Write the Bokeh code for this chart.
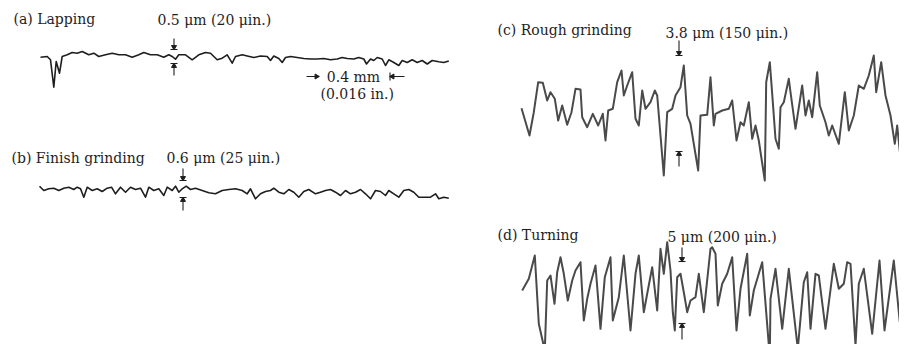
from bokeh.plotting import figure
from bokeh.models import Range1d
from bokeh.core.properties import value
from bokeh.embed import file_html
from bokeh.resources import INLINE

# ---------------- data: surface profile traces ----------------
a_x = [40, 46.7, 50, 53.3, 55.7, 59, 61.7, 66.7, 71.7, 76.7, 81.7, 88.3, 93.3, 98.3, 105, 111.7, 118.3, 125,
       131.7, 138.3, 143.3, 150, 156.7, 163.3, 168.3, 171.7, 175, 178.3, 185, 191.7, 198.3, 205, 210, 216.7,
       221.7, 226.7, 231.7, 235, 241.7, 246.7, 253.3, 260, 266.7, 270, 273.3, 278.3, 281.7, 285, 290, 296.7,
       303.3, 310, 316.7, 323.3, 330, 336.7, 341.7, 346.7, 353.3, 358.3, 363.3, 366, 370, 373.3, 376.7, 381.7,
       385, 388.3, 393.3, 398.3, 401.7, 406.7, 411.7, 416.7, 421.7, 426.7, 431.7, 438.3, 443.3, 448.3]
a_y = [56.7, 56, 59.3, 86.7, 61, 72.7, 56, 54.3, 52, 52.7, 51, 54.3, 52.7, 56, 54.3, 52.7, 54.3, 54.3,
       56.7, 54.3, 52, 54.3, 54.3, 56.7, 54.3, 56, 58.7, 54.3, 54.3, 59.3, 54.3, 52, 52.7, 59.3,
       57.7, 54.3, 62.7, 56, 54.3, 55.5, 57, 55.5, 56, 60, 55.5, 58, 62, 57, 56, 57,
       58, 58.5, 58.5, 58, 59.3, 58.5, 57, 58, 58.5, 57, 58.5, 63.5, 58.5, 60, 57, 58.5,
       65, 59.3, 62, 65, 60, 62, 59.3, 62, 60, 63.5, 60, 61.3, 62, 60.5]

b_x = [39, 43.3, 48.3, 53.3, 58.3, 63.3, 68.3, 73.3, 76.7, 80, 83.3, 86.7, 91.7, 96.7, 101.7, 106.7, 111, 115,
       120, 125, 130, 135, 140, 145, 148.3, 153.3, 158.3, 163.3, 166.7, 171.7, 175, 178.3, 181.7, 185.7, 190,
       195, 201.7, 208.3, 215, 221.7, 228.3, 235, 241.7, 246.7, 250, 255, 260, 265, 270, 273.3, 278.3, 283.3,
       288.3, 293.3, 298.3, 303.3, 308.3, 315, 320, 325, 330, 335, 340, 345, 350, 355, 360, 365, 370, 375,
       380, 385, 388.3, 393.3, 398.3, 403.3, 408.3, 413.3, 418.3, 425, 430, 435, 438.3, 443.3, 448.3]
b_y = [185.7, 190, 188.3, 187.7, 190, 187.7, 186.7, 189, 186.7, 188.3, 196.7, 186.7, 190, 188.3, 191, 187.7,
       186.7, 193.3, 186.7, 191.7, 186.7, 189, 187.7, 196.7, 186.7, 190, 188.3, 195, 186.7, 190, 185.7, 191.7,
       188.3, 185.7, 189, 187.7, 190, 192.3, 193.3, 190, 189, 188.3, 190, 193.3, 188.3, 198.3, 193.3, 191,
       190, 187.7, 191.7, 193.3, 189, 191.7, 196.7, 191, 189, 193.3, 191.7, 190, 189, 191.7, 195, 190, 193.3,
       191.7, 189, 193.3, 198.3, 190, 191, 195, 190, 193.3, 196.7, 190, 189, 191.7, 196.7, 196.7, 196.7,
       193.3, 198.3, 196.7, 197.7]

c_x = [521, 529, 533.3, 537.7, 542.3, 546.7, 550, 554.3, 557.7, 561.7, 566.7, 571, 575, 580, 581.7, 586.7,
       592.3, 597.7, 602.3, 605, 607.7, 612.3, 616.7, 621, 623.3, 626.7, 631.7, 635, 638.3, 641.7, 645, 650,
       654.3, 656.7, 663.3, 666.7, 671.7, 675, 680, 683.3, 686.7, 690, 697.7, 700, 706.7, 710, 713.3, 715,
       721.7, 728.3, 731.7, 736, 740, 743.3, 748.3, 751.7, 755, 758.3, 764.3, 765.7, 769.3, 771.7, 775, 778.3,
       780, 783.3, 788.3, 790, 795, 801.7, 805, 808.3, 811.7, 816.7, 819.3, 825, 828.3, 831.7, 838.3, 844.3,
       848.3, 853.3, 858.3, 863.3, 868.3, 873.3, 875.7, 880.7, 885, 890, 894.3, 896.7, 899.3, 902.7, 906.7,
       910, 913]
c_y = [107.7, 135, 111.7, 81.7, 82.3, 100, 91.7, 98.3, 120, 105, 124.3, 111.7, 88.3, 89, 116.7, 126.7,
       113.3, 125, 113.3, 140, 110, 108.3, 81.7, 70, 95, 85, 71.7, 118.3, 125, 90, 108.3, 101.7,
       90, 95, 175, 111.7, 108.3, 95, 86.7, 65, 115, 123.3, 170, 115, 114.3, 76.7, 125, 113.3,
       110, 108.3, 100, 140, 121.7, 125, 101.7, 138.3, 125, 140, 180, 81.7, 61.7, 93.3, 138.3, 148.3,
       106.7, 101.7, 78.3, 91.7, 128.3, 85, 115, 100, 116.7, 71.7, 105, 121.7, 135, 125, 143.3, 91.7,
       130, 115, 85, 88.3, 75, 55, 91.7, 61.7, 95, 115, 143.3, 125, 151, 116.7, 126.7,
       113.3, 95]

d_x = [521.7, 528.3, 534.3, 538.3, 544.3, 546.7, 550, 554, 556.7, 560, 563.3, 567.3, 571.7, 575, 580, 583.3,
       586.7, 590, 595, 600, 604.3, 610, 612.3, 618.3, 623.3, 630, 635, 638.3, 643.3, 646.7, 651.7, 656.7,
       660, 663.3, 666.7, 670, 672.3, 674.3, 676.7, 680, 683.3, 686.7, 690, 695, 698.3, 703.3, 710, 711.7,
       715, 717.3, 721.7, 726.7, 731.7, 736, 740, 746.7, 749.3, 753.3, 761.7, 769.3, 770, 775, 781.7, 788.3,
       797.3, 803.3, 806.7, 810, 815, 818.3, 825, 833.3, 838.3, 843.3, 846.7, 850, 855, 858.3, 863.3, 871.7,
       879, 884, 893.3, 899.3, 906.7, 911.7]
d_y = [290, 278.3, 255, 323.3, 350, 280, 275, 303.3, 271.7, 256.7, 273.3, 300, 280, 270, 261.7, 320,
       298.3, 283.3, 265, 328.3, 276.7, 256.7, 320, 296.7, 255, 330, 273.3, 255, 311.7, 293.3, 266.7, 310,
       248.3, 273.3, 241.7, 270, 311.7, 330, 276.7, 273.3, 291.7, 311.7, 300, 296.7, 273.3, 311.7, 248.3, 246.7,
       253.3, 305, 283.3, 273.3, 256.7, 330, 288.3, 253.3, 315, 290, 261.7, 356.7, 298.3, 268.3, 328.3, 268.3,
       348.3, 281.7, 271.7, 328.3, 273.3, 275, 328.3, 263.3, 288.3, 283.3, 261.7, 263.3, 345, 283.3, 268.3, 333.3,
       260, 330, 260, 321.7, 256.7, 306.7]

# ---------------- labels ----------------
titles = ["(a) Lapping", "(b) Finish grinding", "(c) Rough grinding", "(d) Turning"]
scales = ["0.5 \u03bcm (20 \u03bcin.)", "0.6 \u03bcm (25 \u03bcin.)",
          "3.8 \u03bcm (150 \u03bcin.)", "5 \u03bcm (200 \u03bcin.)"]
length_label = "0.4 mm"
length_label_in = "(0.016 in.)"

# ---------------- layout (reference-pixel coordinates) ----------------
title_x = [13, 11, 497, 497]
title_y = [18, 157, 29, 234]
scale_x = [157, 166, 665, 667]
scale_y = [19, 157, 32, 236]
# scale markers: x, top arrow start/end, bottom arrow start/end
mk_x = [173.5, 182.5, 678.5, 681.5]
mk_top = [(38, 49), (168, 180), (40, 55), (247, 261)]
mk_bot = [(63, 75), (197, 210), (151, 166), (323, 339)]

FONT = value("DejaVu Serif")
INK = "#1e1e1e"
FS = "14px"

p = figure(width=899, height=344, output_backend="svg", toolbar_location=None,
           x_range=Range1d(0, 899), y_range=Range1d(344, 0), min_border=0)
p.axis.visible = False
p.xgrid.visible = False
p.ygrid.visible = False
p.outline_line_color = None
p.background_fill_color = "white"
p.border_fill_color = "white"

# traces
p.line(a_x, a_y, line_color=INK, line_width=1.6, line_join="round")
p.line(b_x, b_y, line_color=INK, line_width=1.6, line_join="round")
p.line(c_x, c_y, line_color="#4a4a4a", line_width=2.0, line_join="round")
p.line(d_x, d_y, line_color="#4a4a4a", line_width=2.0, line_join="round")

# titles and scale labels
p.text(x=title_x, y=title_y, text=titles, text_font=FONT, text_font_size=FS,
       text_color=INK, text_baseline="middle", text_align="left")
p.text(x=scale_x, y=scale_y, text=scales, text_font=FONT, text_font_size=FS,
       text_color=INK, text_baseline="middle", text_align="left")

# scale markers
for x, (t0, t1), (b0, b1) in zip(mk_x, mk_top, mk_bot):
    p.segment(x0=[x, x - 3.5, x, x - 3.5], y0=[t0, t1, b1, b0],
              x1=[x, x + 3.5, x, x + 3.5], y1=[t1, t1, b0, b0],
              line_color=INK, line_width=1.1)
    p.scatter(x=[x], y=[t1 - 2.5], marker="inverted_triangle", size=5, color=INK)
    p.scatter(x=[x], y=[b0 + 2.5], marker="triangle", size=5, color=INK)

# 0.4 mm length indicator
len_y = 76
p.segment(x0=[306, 390], y0=[len_y, len_y], x1=[317, 404], y1=[len_y, len_y],
          line_color=INK, line_width=1.1)
p.segment(x0=[389.5], y0=[len_y - 4], x1=[389.5], y1=[len_y + 4], line_color=INK, line_width=1.1)
p.scatter(x=[316], y=[len_y], marker="triangle", angle=-1.5708, size=5, color=INK)
p.scatter(x=[392], y=[len_y], marker="triangle", angle=1.5708, size=5, color=INK)
p.text(x=[353], y=[len_y], text=[length_label], text_font=FONT, text_font_size=FS,
       text_color=INK, text_baseline="middle", text_align="center")
p.text(x=[320], y=[93], text=[length_label_in], text_font=FONT, text_font_size=FS,
       text_color=INK, text_baseline="middle", text_align="left")

open("out.html", "w").write(file_html(p, INLINE))
